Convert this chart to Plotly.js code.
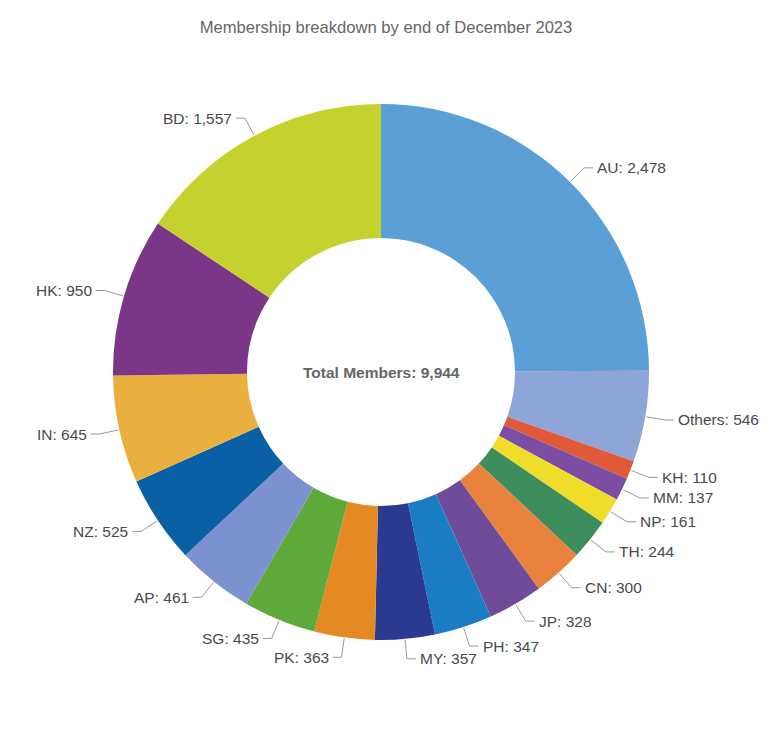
<!DOCTYPE html>
<html>
<head>
<meta charset="utf-8">
<script src="https://cdn.plot.ly/plotly-3.0.1.min.js"></script>
<style>html,body{margin:0;padding:0;background:#fff;}#chart{width:772px;height:731px;}</style>
</head>
<body>
<div id="chart"></div>
<script>
const countries = ["AU","Others","KH","MM","NP","TH","CN","JP","PH","MY","PK","SG","AP","NZ","IN","HK","BD"];
const members = [2478,546,110,137,161,244,300,328,347,357,363,435,461,525,645,950,1557];
const colors = ["#5a9fd6","#8ea5d8","#e05a3a","#7b4ea3","#f0dd2a","#3e8d5c","#e8823d","#6e4c9a","#1a7dc4","#2b3990","#e58a22","#5fa93a","#7b91d0","#0b5fa5","#e9b040","#7b3688","#c5d12e"];
const titleText = "Membership breakdown by end of December 2023";

const W = 772, H = 731;
const cx = 381, cy = 372, R = 268;

const total = members.reduce((a,b)=>a+b,0);
const fmt = n => n.toLocaleString("en-US");

const shapes = [], annotations = [];
let cum = 0;
members.forEach((v,i)=>{
  const mid = (cum + v/2)/total*2*Math.PI;
  cum += v;
  const s = Math.sin(mid), c = Math.cos(mid);
  const x0 = cx + (R+1)*s, y0 = cy - (R+1)*c;
  const x1 = cx + (R+20)*s, y1 = cy - (R+20)*c;
  const right = s >= 0;
  const x2 = x1 + (right ? 9 : -9);
  shapes.push({type:"path", xref:"paper", yref:"paper",
    path:`M ${x0/W} ${1-y0/H} L ${x1/W} ${1-y1/H} L ${x2/W} ${1-y1/H}`,
    line:{color:"#999", width:1}});
  annotations.push({xref:"paper", yref:"paper", x:(x2 + (right?2:-2))/W, y:1-y1/H,
    xanchor: right?"left":"right", yanchor:"middle", showarrow:false,
    text: countries[i] + ": " + fmt(v),
    font:{family:"Liberation Sans, Arial, sans-serif", size:15.5, color:"#4a4a4a"}});
});
annotations.push({xref:"paper", yref:"paper", x:cx/W, y:1-cy/H, xanchor:"center", yanchor:"middle",
  showarrow:false, text:"<b>Total Members: " + fmt(total) + "</b>",
  font:{family:"Liberation Sans, Arial, sans-serif", size:15.5, color:"#666"}});

const data = [{
  type:"pie", labels:countries, values:members, hole:0.5, sort:false,
  direction:"clockwise", rotation:0, textinfo:"none", hoverinfo:"label+value",
  marker:{colors:colors, line:{width:0}},
  domain:{x:[(cx-R)/W,(cx+R)/W], y:[1-(cy+R)/H, 1-(cy-R)/H]},
  showlegend:false
}];

const layout = {
  width:W, height:H, margin:{l:0,r:0,t:0,b:0},
  paper_bgcolor:"#fff",
  title:{text:titleText, x:0.5, xanchor:"center", y:1-27/H, yanchor:"middle", yref:"container",
    font:{family:"Liberation Sans, Arial, sans-serif", size:16.6, color:"#666"}},
  shapes:shapes, annotations:annotations, showlegend:false
};
Plotly.newPlot("chart", data, layout, {displayModeBar:false, staticPlot:true});
</script>
</body>
</html>
